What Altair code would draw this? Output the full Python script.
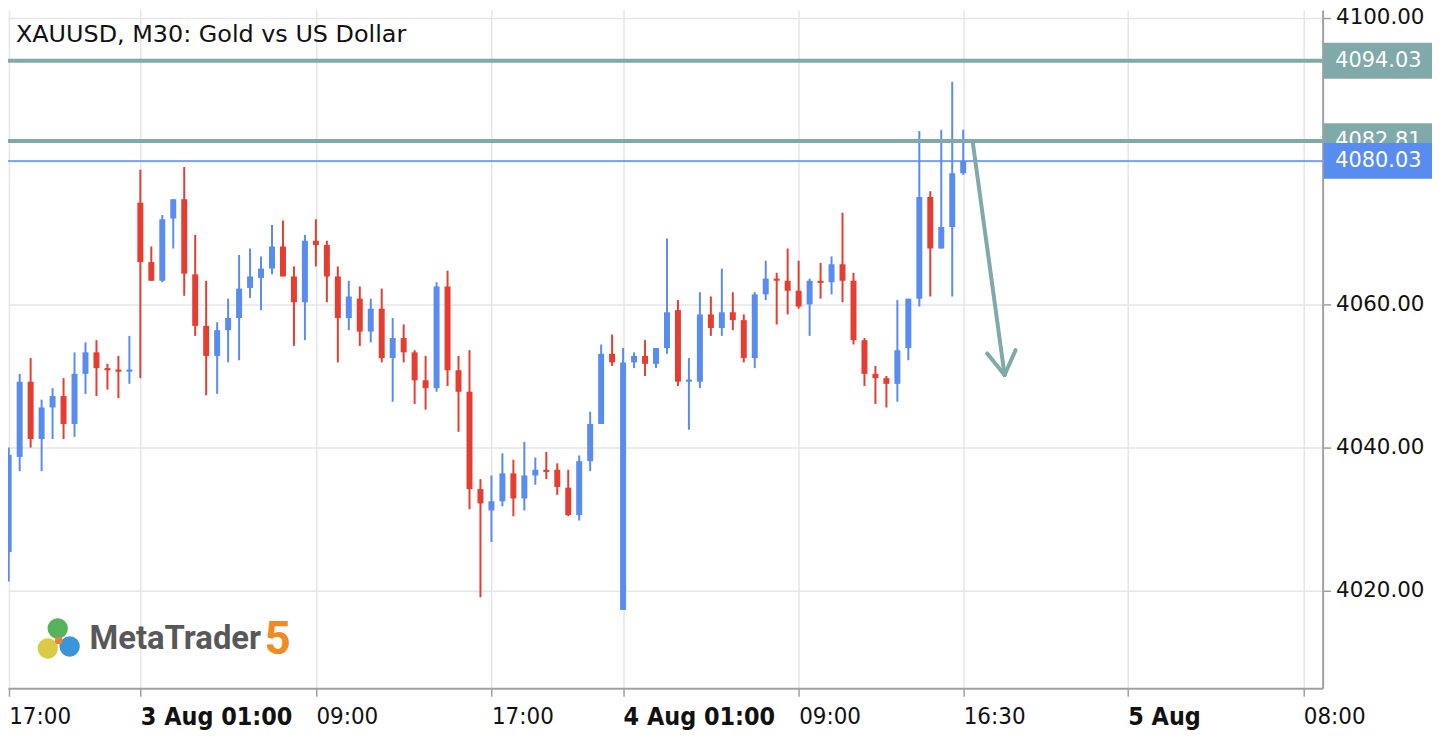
import altair as alt
import pandas as pd

# ---- candle data (index 0 = 17:00, 30-minute bars) ----
opens = [4025.4, 4038.7, 4049.2, 4041.2, 4045.6, 4047.2, 4043.3, 4050.3, 4053.3, 4051.1,
         4050.9, 4050.6, 4074.2, 4065.9, 4063.3, 4072.0, 4074.7, 4064.2, 4057.0, 4052.8,
         4056.4, 4058.1, 4062.3, 4063.7, 4065.0, 4068.1, 4063.9, 4060.3, 4068.9, 4068.3,
         4063.9, 4058.1, 4060.8, 4056.2, 4059.4, 4052.5, 4055.3, 4053.3, 4049.4, 4048.3,
         4062.5, 4050.8, 4047.8, 4034.2, 4031.2, 4032.5, 4036.4, 4032.9, 4036.1, 4036.9,
         4036.9, 4034.4, 4030.6, 4038.1, 4043.3, 4053.1, 4017.3, 4051.9, 4052.8, 4051.7,
         4053.9, 4059.2, 4049.2, 4049.2, 4058.6, 4056.7, 4058.9, 4057.8, 4052.5, 4061.4,
         4063.6, 4063.3, 4061.9, 4060.0, 4063.3, 4063.1, 4065.6, 4063.3, 4055.0, 4050.3,
         4049.7, 4048.9, 4053.9, 4060.8, 4075.0, 4067.8, 4070.8, 4078.3]
highs = [4040.0, 4050.3, 4052.5, 4046.7, 4048.3, 4049.7, 4053.3, 4054.7, 4055.0, 4051.7,
         4052.8, 4055.6, 4078.8, 4068.1, 4072.5, 4074.7, 4079.2, 4069.7, 4063.3, 4057.5,
         4060.8, 4066.9, 4067.8, 4066.7, 4071.1, 4071.7, 4065.3, 4069.7, 4071.9, 4068.9,
         4065.3, 4063.3, 4062.5, 4060.8, 4062.2, 4058.1, 4057.2, 4053.6, 4052.8, 4063.1,
         4064.7, 4052.8, 4053.6, 4035.6, 4036.1, 4039.2, 4038.3, 4040.8, 4038.6, 4039.4,
         4037.8, 4036.9, 4038.9, 4045.0, 4054.4, 4055.8, 4053.9, 4053.3, 4055.0, 4053.9,
         4069.2, 4060.6, 4052.5, 4061.7, 4061.1, 4065.0, 4061.7, 4058.6, 4061.7, 4066.1,
         4064.4, 4067.8, 4066.1, 4063.6, 4065.8, 4066.7, 4072.8, 4064.4, 4055.3, 4051.4,
         4050.0, 4060.6, 4060.8, 4084.2, 4075.8, 4084.4, 4091.1, 4084.4]
lows = [4021.3, 4036.7, 4040.0, 4036.7, 4041.2, 4041.2, 4041.5, 4047.5, 4047.2, 4048.1,
        4046.9, 4048.9, 4049.7, 4063.3, 4063.1, 4067.8, 4061.2, 4055.6, 4047.3, 4047.5,
        4051.9, 4052.2, 4060.9, 4059.2, 4064.2, 4063.9, 4054.2, 4055.0, 4065.3, 4060.3,
        4051.9, 4056.4, 4054.2, 4054.7, 4051.9, 4046.4, 4051.9, 4046.1, 4045.3, 4047.8,
        4048.6, 4042.2, 4031.4, 4019.1, 4026.8, 4031.8, 4030.4, 4031.2, 4034.8, 4035.6,
        4033.4, 4030.4, 4029.8, 4036.7, 4043.3, 4051.4, 4017.3, 4051.1, 4050.0, 4051.1,
        4053.1, 4048.6, 4042.5, 4048.3, 4055.6, 4055.6, 4056.4, 4051.9, 4051.1, 4060.6,
        4057.2, 4058.6, 4059.4, 4055.6, 4060.8, 4061.4, 4060.3, 4054.4, 4048.6, 4046.1,
        4045.6, 4046.4, 4052.2, 4059.7, 4061.1, 4067.8, 4061.1, 4078.1]
closes = [4039.0, 4049.2, 4041.2, 4045.6, 4047.2, 4043.3, 4050.3, 4053.3, 4051.1, 4050.8,
          4050.6, 4050.9, 4065.9, 4063.3, 4071.9, 4074.7, 4064.3, 4057.0, 4052.8, 4056.4,
          4058.1, 4062.2, 4063.9, 4065.0, 4068.1, 4063.9, 4060.3, 4068.9, 4068.3, 4063.9,
          4058.1, 4061.1, 4056.2, 4059.4, 4052.5, 4055.3, 4053.3, 4049.4, 4048.3, 4062.5,
          4050.8, 4047.8, 4034.2, 4032.2, 4032.5, 4036.4, 4032.9, 4036.1, 4036.9, 4036.6,
          4034.5, 4030.6, 4038.1, 4043.3, 4053.1, 4051.9, 4051.9, 4052.8, 4051.7, 4053.9,
          4058.9, 4049.2, 4049.5, 4058.6, 4056.7, 4058.9, 4057.8, 4052.5, 4061.4, 4063.6,
          4063.3, 4061.9, 4059.7, 4063.3, 4063.0, 4065.6, 4063.3, 4055.0, 4050.3, 4049.7,
          4048.9, 4053.6, 4060.8, 4075.0, 4067.8, 4070.8, 4078.3, 4080.03]

# ---- axis labels ----
tick_idx = [0, 12, 28, 44, 56, 72, 87, 102, 118]
tick_labels = ["17:00", "3 Aug 01:00", "09:00", "17:00", "4 Aug 01:00", "09:00", "16:30", "5 Aug", "08:00"]
bold_ticks = [12, 56, 102]
price_ticks = [4020, 4040, 4060, 4080, 4100]

# ---- levels / annotation ----
level_prices = [4094.03, 4082.81]
level_labels = ["4094.03", "4082.81"]
last_price = [4080.03]
last_label = ["4080.03"]
arrow_x1 = [87.86, 89.19, 91.77]
arrow_y1 = [4082.78, 4053.15, 4053.61]
arrow_x2 = [90.77, 90.77, 90.77]
arrow_y2 = [4050.14, 4050.14, 4050.14]

title_text = "XAUUSD, M30: Gold vs US Dollar"

W, H = 1322, 682
X_DOMAIN = [-0.063, 119.76]
Y_DOMAIN = [4006.39, 4101.11]
BLUE = "#588cee"
RED = "#e53d30"
TEAL = "#80a9a9"
GRID = "#e6e6e6"
AXIS = "#a0a0a0"

df = pd.DataFrame({"idx": list(range(len(opens))), "open": opens, "high": highs,
                   "low": lows, "close": closes})
df["dir"] = ["up" if c >= o else "down" for o, c in zip(opens, closes)]

label_expr = ""
for v, t in zip(tick_idx, tick_labels):
    label_expr += f"datum.value == {v} ? '{t}' : "
label_expr += "''"
bold_test = "indexof([" + ",".join(str(b) for b in bold_ticks) + "], datum.value) >= 0"

xaxis = alt.Axis(values=tick_idx, labelExpr=label_expr, title=None, grid=True,
                 gridColor=GRID, gridWidth=1.5, domainColor=AXIS, domainWidth=2,
                 tickColor=AXIS, tickWidth=1.5, tickSize=8, labelAlign="left",
                 labelBaseline="top", labelPadding=8, labelFlush=False, labelOverlap=False,
                 labelBound=False, labelColor="#111",
                 labelFont="Liberation Sans Narrow, DejaVu Sans Condensed, sans-serif",
                 labelFontSize={"condition": {"test": bold_test, "value": 25}, "value": 24},
                 labelFontWeight={"condition": {"test": bold_test, "value": "bold"}, "value": "normal"})
yaxis = alt.Axis(values=price_ticks, format=".2f", orient="right", title=None, grid=True,
                 gridColor=GRID, gridWidth=1.5, domainColor=AXIS, domainWidth=2,
                 tickColor=AXIS, tickWidth=1.5, tickSize=8, labelPadding=5,
                 labelFont="DejaVu Sans", labelFontSize=21.5, labelColor="#111",
                 labelOverlap=False, labelBound=False)

xs = alt.Scale(domain=X_DOMAIN, nice=False, zero=False, padding=0)
ys = alt.Scale(domain=Y_DOMAIN, nice=False, zero=False, padding=0)
cscale = alt.Scale(domain=["up", "down"], range=[BLUE, RED])

base = alt.Chart(df)
wicks = base.mark_rule(strokeWidth=2, clip=True).encode(
    x=alt.X("idx:Q", scale=xs, axis=xaxis),
    y=alt.Y("low:Q", scale=ys, axis=yaxis),
    y2="high:Q",
    color=alt.Color("dir:N", scale=cscale, legend=None),
)
bodies = base.mark_bar(size=6, clip=True).encode(
    x=alt.X("idx:Q", scale=xs, axis=xaxis),
    y=alt.Y("open:Q", scale=ys, axis=yaxis),
    y2="close:Q",
    color=alt.Color("dir:N", scale=cscale, legend=None),
)

lev_df = pd.DataFrame({"price": level_prices, "label": level_labels})
lev_df["top"] = lev_df["price"] + 2.5
lev_df["bot"] = lev_df["price"] - 2.5
last_df = pd.DataFrame({"price": last_price, "label": last_label})
last_df["top"] = last_df["price"] + 2.5
last_df["bot"] = last_df["price"] - 2.5

lev_lines = alt.Chart(lev_df).mark_rule(color=TEAL, strokeWidth=4).encode(
    y=alt.Y("price:Q", scale=ys, axis=yaxis))
last_line = alt.Chart(last_df).mark_rule(color=BLUE, strokeWidth=1.5).encode(
    y=alt.Y("price:Q", scale=ys, axis=yaxis))

arr_df = pd.DataFrame({"x1": arrow_x1, "y1": arrow_y1, "x2": arrow_x2, "y2": arrow_y2})
arrow = alt.Chart(arr_df).mark_rule(color=TEAL, strokeWidth=4, strokeCap="round").encode(
    x=alt.X("x1:Q", scale=xs, axis=xaxis), x2="x2:Q",
    y=alt.Y("y1:Q", scale=ys, axis=yaxis), y2="y2:Q")

lev_box = alt.Chart(lev_df).mark_rect(color=TEAL).encode(
    x=alt.value(W + 1), x2=alt.value(W + 110),
    y=alt.Y("top:Q", scale=ys, axis=yaxis), y2="bot:Q")
lev_txt = alt.Chart(lev_df).mark_text(color="white", font="DejaVu Sans", fontSize=21,
                                       align="center", baseline="middle").encode(
    x=alt.value(W + 56), y=alt.Y("price:Q", scale=ys, axis=yaxis), text="label:N")
last_box = alt.Chart(last_df).mark_rect(color=BLUE).encode(
    x=alt.value(W + 1), x2=alt.value(W + 110),
    y=alt.Y("top:Q", scale=ys, axis=yaxis), y2="bot:Q")
last_txt = alt.Chart(last_df).mark_text(color="white", font="DejaVu Sans", fontSize=21,
                                        align="center", baseline="middle").encode(
    x=alt.value(W + 56), y=alt.Y("price:Q", scale=ys, axis=yaxis), text="label:N")

title = alt.Chart(pd.DataFrame({"t": [title_text]})).mark_text(
    font="DejaVu Sans", fontSize=24, color="#111", align="left", baseline="middle").encode(
    x=alt.value(8), y=alt.value(25), text="t:N")

logo_df = pd.DataFrame({"t": ["MetaTrader"]})
logo_txt = alt.Chart(logo_df).mark_text(
    font="Roboto", fontSize=33, fontWeight="bold", color="#585858", align="left",
    baseline="middle").encode(x=alt.value(82), y=alt.value(633), text="t:N")
five_txt = alt.Chart(pd.DataFrame({"t": ["5"]})).mark_text(
    font="Roboto", fontSize=46, fontWeight="bold", color="#f08a24", align="left",
    baseline="middle").encode(x=alt.value(258), y=alt.value(634), text="t:N")
icon_g = alt.Chart(pd.DataFrame({"k": [1]})).mark_circle(color="#4caf50", size=420, opacity=0.95).encode(
    x=alt.value(50), y=alt.value(622))
icon_b = alt.Chart(pd.DataFrame({"k": [1]})).mark_circle(color="#2f8fd8", size=420, opacity=0.95).encode(
    x=alt.value(62), y=alt.value(640))
icon_y = alt.Chart(pd.DataFrame({"k": [1]})).mark_circle(color="#d9c83a", size=420, opacity=0.95).encode(
    x=alt.value(40), y=alt.value(642))
icon_c = alt.Chart(pd.DataFrame({"k": [1]})).mark_circle(color="#e8843a", size=60, opacity=1).encode(
    x=alt.value(51), y=alt.value(634))

chart = alt.layer(
    wicks, bodies, lev_lines, last_line, arrow,
    lev_box, lev_txt, last_box, last_txt,
    title, icon_g, icon_b, icon_y, icon_c, logo_txt, five_txt,
).properties(
    width=W, height=H, background="white",
    autosize=alt.AutoSizeParams(type="none"),
    padding={"left": 0, "top": 0, "right": 112, "bottom": 48},
).configure_view(strokeWidth=0)

chart.save("out.html", embed_options={"renderer": "svg", "actions": False})
